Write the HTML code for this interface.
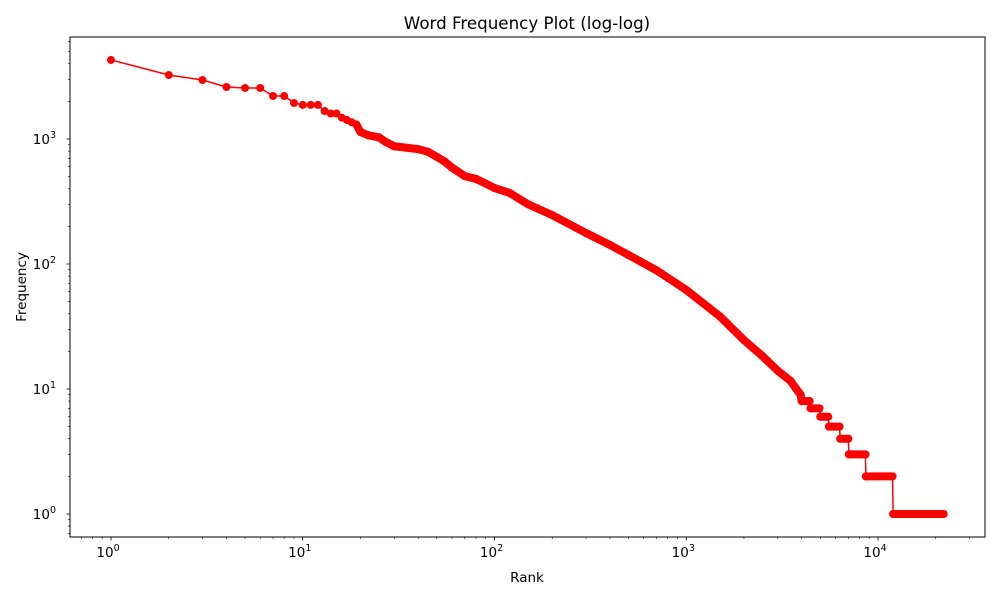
<!DOCTYPE html>
<html><head><meta charset="utf-8"><style>
body{margin:0;background:#fff;}
svg{display:block;font-family:"DejaVu Sans","Liberation Sans",sans-serif;}
</style></head><body>
<svg id="chart" width="1000" height="600">
<rect width="1000" height="600" fill="#fff"/>
<text x="527" y="29" font-size="16.7" text-anchor="middle">Word Frequency Plot (log-log)</text>
<text x="527" y="582" font-size="13.5" text-anchor="middle">Rank</text>
<text x="26" y="287" font-size="13.5" text-anchor="middle" transform="rotate(-90 26 287)">Frequency</text>
<g id="axes"></g>
<g id="series"></g>
<rect x="70" y="37" width="915" height="500" fill="none" stroke="#000" stroke-width="1"/>
</svg>
<script>
const ranks = [1,2,3,4,5,6,7,8,9,10,11,12,13,14,15,16,17,18,19,20,22,25,27,30,40,45,50,55,60,70,80,90,100,120,150,200,300,400,500,700,1000,1500,2000,2500,3000,3500,3750,3950,4000,4400,4450,4950,5000,5500,5550,6300,6350,7000,7050,8600,8650,11900,12000,22000];
const freqs = [4290,3250,2965,2606,2560,2560,2208,2208,1941,1874,1874,1874,1675,1600,1600,1480,1420,1360,1310,1137,1070,1030,950,875,830,790,720,660,590,505,480,440,405,370,300,246,177,142,118,89,62,38,24.6,18.3,14,11.6,10,9,8,8,7,7,6,6,5,5,4,4,3,3,2,2,1,1];
const xTicks = [0,1,2,3,4];
const yTicks = [0,1,2,3];
const NS='http://www.w3.org/2000/svg';
const x = r => 111 + 191.75*Math.log10(r);
const y = f => 514 - 125*Math.log10(f);
function mk(tag, attrs, parent){const e=document.createElementNS(NS,tag);for(const k in attrs)e.setAttribute(k,attrs[k]);parent.appendChild(e);return e;}
const axes=document.getElementById('axes'), ser=document.getElementById('series');
// x ticks
for(let d=-1; d<=4; d++){
  for(let m=1;m<10;m++){
    const v=m*Math.pow(10,d), px=x(v);
    if(px<70||px>985) continue;
    const len = m===1?3.5:2;
    const t=mk('line',{x1:px,x2:px,y1:537,y2:537+len,stroke:'#000','stroke-width':m===1?0.8:0.6},axes);
    
    
  }
}
xTicks.forEach(e=>{
  const tx=mk('text',{x:x(Math.pow(10,e))-3,y:557,'font-size':13.5,'text-anchor':'middle'},axes);
  
  
  tx.textContent='10';
  const s=mk('tspan',{dy:-6,'font-size':9.5},tx); s.textContent=String(e);
});
for(let d=-1; d<=4; d++){
  for(let m=1;m<10;m++){
    const v=m*Math.pow(10,d), py=y(v);
    if(py<37||py>537) continue;
    const len = m===1?3.5:2;
    const t=mk('line',{x1:70-len,x2:70,y1:py,y2:py,stroke:'#000','stroke-width':m===1?0.8:0.6},axes);
    
    
  }
}
yTicks.forEach(e=>{
  const tx=mk('text',{x:56,y:y(Math.pow(10,e))+5,'font-size':13.5,'text-anchor':'end'},axes);
  
  
  tx.textContent='10';
  const s=mk('tspan',{dy:-6,'font-size':9.5},tx); s.textContent=String(e);
});
// thin line
const pts=ranks.map((r,i)=>x(r).toFixed(1)+','+y(freqs[i]).toFixed(1)).join(' ');
const pl=mk('polyline',{points:pts,fill:'none',stroke:'#ff0000','stroke-width':1.5},ser);


// dense-marker band
for(let i=0;i<ranks.length-1;i++){
  if(ranks[i]<19) continue;
  if(freqs[i]!==freqs[i+1] && freqs[i+1]<=7) continue;
  const b=mk('line',{x1:x(ranks[i]),y1:y(freqs[i]),x2:x(ranks[i+1]),y2:y(freqs[i+1]),stroke:'#ff0000','stroke-width':8,'stroke-linecap':'round'},ser);
  
  
}
ranks.forEach((r,i)=>{
  const c=mk('circle',{cx:x(r),cy:y(freqs[i]),r:4,fill:'#ff0000'},ser);
  
  
});
</script>
</body></html>
